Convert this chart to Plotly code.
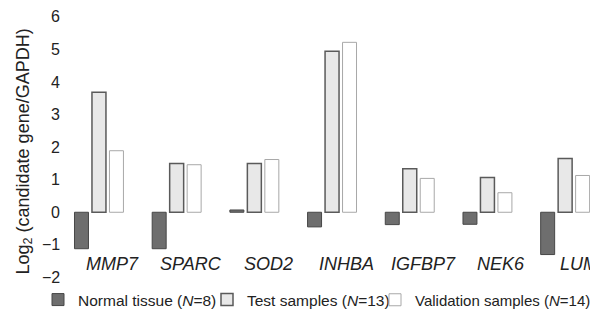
import plotly.graph_objects as go

genes = ["MMP7", "SPARC", "SOD2", "INHBA", "IGFBP7", "NEK6", "LUM"]
normal = [-1.12, -1.12, 0.07, -0.45, -0.38, -0.37, -1.3]
test = [3.69, 1.5, 1.5, 4.95, 1.34, 1.07, 1.65]
validation = [1.89, 1.46, 1.62, 5.22, 1.04, 0.6, 1.13]
series_names = ["Normal tissue (<i>N</i>=8)", "Test samples (<i>N</i>=13)",
                "Validation samples (<i>N</i>=14)"]
y_title = "Log<sub>2</sub> (candidate gene/GAPDH)"
y_ticks = [-2, -1, 0, 1, 2, 3, 4, 5, 6]
y_tick_text = ["\u22122", "\u22121", "0", "1", "2", "3", "4", "5", "6"]

txt = "#222222"
font_family = "Liberation Sans, Arial, sans-serif"
fig = go.Figure()
fig.add_bar(x=genes, y=normal, name=series_names[0], legend="legend",
            marker=dict(color="#6e6e6e", line=dict(color="#474747", width=1)))
fig.add_bar(x=genes, y=test, name=series_names[1], legend="legend2",
            marker=dict(color="#e8e8e8", line=dict(color="#5a5a5a", width=1.5)))
fig.add_bar(x=genes, y=validation, name=series_names[2], legend="legend3",
            marker=dict(color="#ffffff", line=dict(color="#a8a8a8", width=1)))

# italic gene labels, drawn just above the bottom of the axis
for g in genes:
    fig.add_annotation(x=g, y=-1.6, xref="x", yref="y", text=f"<i>{g}</i>",
                       showarrow=False, xshift=14,
                       font=dict(family=font_family, size=18, color=txt))

# y tick labels (drawn as text so that none is dropped at the range ends)
for v, t in zip(y_ticks, y_tick_text):
    fig.add_annotation(x=0, y=v, xref="paper", yref="y", text=t, showarrow=False,
                       xanchor="right", yanchor="middle", xshift=-2,
                       font=dict(family=font_family, size=16, color=txt))

# the page body adds an 8 px margin, so the figure is 8 px smaller than the window
W, H = 590, 312
ml, mr, mt, mb = 56, 0, 7, 42
pw, ph = W - ml - mr, H - mt - mb

# rotated y-axis title
fig.add_annotation(xref="paper", yref="paper", x=(16 - ml) / pw, y=(H - mb - 143.5) / ph,
                   xanchor="center", yanchor="middle", text=y_title, textangle=-90,
                   showarrow=False, font=dict(family=font_family, size=18, color=txt))


def leg(text_left_px, size):
    # legend text begins about 40 px right of the legend's left edge
    return dict(orientation="h", xref="container", yref="container",
                x=(text_left_px - 40) / W, xanchor="left",
                y=1 - 292 / H, yanchor="middle", font=dict(size=size, color=txt),
                itemwidth=30, bgcolor="rgba(0,0,0,0)", borderwidth=0)


fig.update_layout(
    width=W, height=H,
    margin=dict(l=ml, r=mr, t=mt, b=mb, autoexpand=False),
    paper_bgcolor="white", plot_bgcolor="white",
    barmode="group", bargap=0.325, bargroupgap=0.2,
    font=dict(family=font_family, size=16, color=txt),
    showlegend=True,
    legend=leg(70, 15.5), legend2=leg(239, 15.5), legend3=leg(407, 15),
    xaxis=dict(range=[-0.45, 6.423], showticklabels=False, showgrid=False,
               zeroline=False, showline=False, ticks="", automargin=False),
    yaxis=dict(range=[-2.02, 6.06], showticklabels=False,
               showgrid=False, zeroline=False, showline=False, ticks="",
               automargin=False),
)

fig.write_html("out.html")
